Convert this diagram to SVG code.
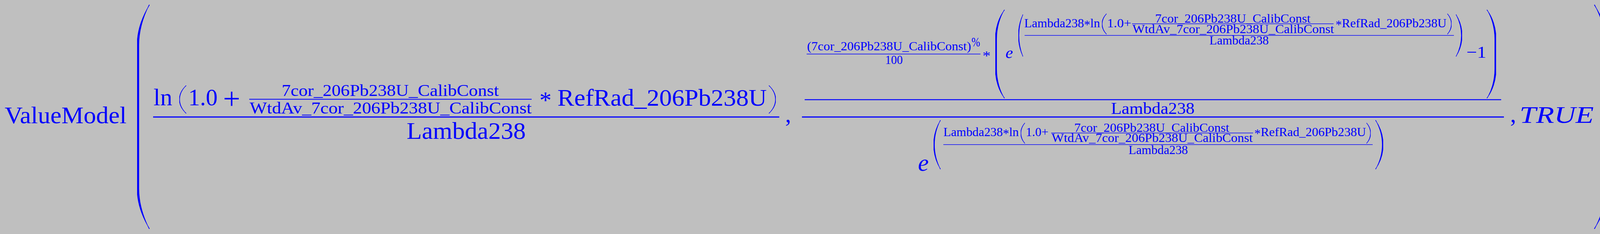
<svg xmlns="http://www.w3.org/2000/svg" width="4144" height="600" viewBox="0 0 4144 600">
<style>
.t{font-family:"Liberation Serif","Times New Roman",serif;fill:#0000FF}
.i{font-style:italic}
.bar{fill:#0000FF}
.d{fill:#0000FF}
.dp{fill:#0000FF;stroke:#0000FF;stroke-width:1.3;stroke-linejoin:round;vector-effect:non-scaling-stroke}
</style>
<defs>
<symbol id="lpb" viewBox="0 0 100 1000" preserveAspectRatio="none"><path class="dp" d="M100,0 C45,50 0,110 0,180 L0,820 C0,890 45,950 100,1000 L97,1000 C52,950 14,890 14,820 L14,180 C14,110 52,50 97,0 Z"/></symbol>
<symbol id="rpb" viewBox="0 0 100 1000" preserveAspectRatio="none"><path class="dp" d="M0,0 C55,50 100,110 100,180 L100,820 C100,890 55,950 0,1000 L3,1000 C48,950 86,890 86,820 L86,180 C86,110 48,50 3,0 Z"/></symbol>
<symbol id="lpm" viewBox="0 0 100 1000" preserveAspectRatio="none"><path class="dp" d="M100,0 C40,80 0,200 0,330 L0,670 C0,800 40,920 100,1000 L97,1000 C50,920 14,800 14,670 L14,330 C14,200 50,80 97,0 Z"/></symbol>
<symbol id="rpm" viewBox="0 0 100 1000" preserveAspectRatio="none"><path class="dp" d="M0,0 C60,80 100,200 100,330 L100,670 C100,800 60,920 0,1000 L3,1000 C50,920 86,800 86,670 L86,330 C86,200 50,80 3,0 Z"/></symbol>
<symbol id="lps" viewBox="0 0 100 1000" preserveAspectRatio="none"><path class="dp" d="M100,0 C30,160 0,330 0,500 C0,670 30,840 100,1000 L97,1000 C40,840 12,670 12,500 C12,330 40,160 97,0 Z"/></symbol>
<symbol id="rps" viewBox="0 0 100 1000" preserveAspectRatio="none"><path class="dp" d="M0,0 C70,160 100,330 100,500 C100,670 70,840 0,1000 L3,1000 C60,840 88,670 88,500 C88,330 60,160 3,0 Z"/></symbol>
<symbol id="lpt" viewBox="0 0 100 1000" preserveAspectRatio="none"><path class="dp" d="M100,0 C30,160 0,330 0,500 C0,670 30,840 100,1000 L98,1000 C34,840 5,670 5,500 C5,330 34,160 98,0 Z"/></symbol>
<symbol id="rpt" viewBox="0 0 100 1000" preserveAspectRatio="none"><path class="dp" d="M0,0 C70,160 100,330 100,500 C100,670 70,840 0,1000 L2,1000 C66,840 95,670 95,500 C95,330 66,160 2,0 Z"/></symbol>
</defs>
<rect x="0" y="0" width="4144" height="600" fill="#BFBFBF"/>

<g id="fn">
<text class="t" x="12" y="316" font-size="62" textLength="312" lengthAdjust="spacingAndGlyphs">ValueModel</text>
<use href="#lpb" x="351" y="12" width="32" height="575"/>
<use href="#rpb" x="4081" y="12" width="34" height="575"/>
</g>

<g id="arg1">
<text class="t" x="393" y="270" font-size="62" textLength="48" lengthAdjust="spacingAndGlyphs">ln</text>
<use href="#lpt" x="459" y="219" width="18" height="72"/>
<text class="t" x="482" y="270" font-size="62" textLength="75" lengthAdjust="spacingAndGlyphs">1.0</text>
<text class="t" x="571" y="279" font-size="78" textLength="44" lengthAdjust="spacingAndGlyphs">+</text>
<text class="t" x="721" y="246" font-size="43" textLength="556" lengthAdjust="spacingAndGlyphs">7cor_206Pb238U_CalibConst</text>
<rect class="bar" x="638" y="253.5" width="723" height="2"/>
<text class="t" x="639" y="291" font-size="43" textLength="722" lengthAdjust="spacingAndGlyphs">WtdAv_7cor_206Pb238U_CalibConst</text>
<text class="t" x="1381" y="277" font-size="62">*</text>
<text class="t" x="1427" y="271" font-size="62" textLength="536" lengthAdjust="spacingAndGlyphs">RefRad_206Pb238U</text>
<use href="#rpt" x="1968" y="219" width="18" height="72"/>
<rect class="bar" x="392" y="298.5" width="1603" height="3"/>
<text class="t" x="1041" y="356" font-size="62" textLength="305" lengthAdjust="spacingAndGlyphs">Lambda238</text>
<text class="t" x="2010" y="313" font-size="62">,</text>
</g>

<g id="arg2">
<text class="t" x="2066" y="129" font-size="31" textLength="420" lengthAdjust="spacingAndGlyphs">(7cor_206Pb238U_CalibConst)</text>
<text class="t" x="2487" y="119" font-size="33" textLength="22" lengthAdjust="spacingAndGlyphs">%</text>
<rect class="bar" x="2065" y="137.8" width="445" height="1.5"/>
<text class="t" x="2266" y="164" font-size="31" textLength="45" lengthAdjust="spacingAndGlyphs">100</text>
<text class="t" x="2515" y="154" font-size="34" textLength="21" lengthAdjust="spacingAndGlyphs">*</text>
<use href="#lpm" x="2548" y="25" width="24" height="227"/>
<text class="t i" x="2574" y="149" font-size="43">e</text>
<use href="#lps" x="2607" y="37" width="12" height="108"/>
<text class="t" x="2622" y="70" font-size="31" textLength="194" lengthAdjust="spacingAndGlyphs">Lambda238<tspan dy="4">*</tspan><tspan dy="-4">ln</tspan></text>
<use href="#lpt" x="2821" y="35" width="12" height="53"/>
<text class="t" x="2834" y="70" font-size="31" textLength="62" lengthAdjust="spacingAndGlyphs">1.0+</text>
<text class="t" x="2957" y="58" font-size="31" textLength="398" lengthAdjust="spacingAndGlyphs">7cor_206Pb238U_CalibConst</text>
<rect class="bar" x="2898" y="60.3" width="516" height="1.4"/>
<text class="t" x="2899" y="85" font-size="31" textLength="516" lengthAdjust="spacingAndGlyphs">WtdAv_7cor_206Pb238U_CalibConst</text>
<text class="t" x="3419" y="70" font-size="31" textLength="284" lengthAdjust="spacingAndGlyphs"><tspan dy="4">*</tspan><tspan dy="-4">RefRad_206Pb238U</tspan></text>
<use href="#rpt" x="3705" y="35" width="11" height="53"/>
<rect class="bar" x="2623" y="90" width="1099" height="1.4"/>
<text class="t" x="3096" y="113.7" font-size="31" textLength="152" lengthAdjust="spacingAndGlyphs">Lambda238</text>
<use href="#rps" x="3727" y="37" width="16" height="108"/>
<text class="t" x="3754" y="148" font-size="43" textLength="51" lengthAdjust="spacingAndGlyphs">−1</text>
<use href="#rpm" x="3806" y="25" width="24" height="227"/>
<rect class="bar" x="2060" y="254.4" width="1783" height="2.4"/>
<text class="t" x="2844" y="291.6" font-size="43" textLength="214" lengthAdjust="spacingAndGlyphs">Lambda238</text>
<rect class="bar" x="2053" y="298.5" width="1797" height="3"/>
<text class="t i" x="2350" y="438" font-size="62">e</text>
<use href="#lps" x="2390" y="308" width="18" height="126"/>
<text class="t" x="2415" y="349" font-size="31" textLength="193" lengthAdjust="spacingAndGlyphs">Lambda238<tspan dy="4">*</tspan><tspan dy="-4">ln</tspan></text>
<use href="#lpt" x="2613" y="315" width="11" height="53"/>
<text class="t" x="2626" y="349" font-size="31" textLength="58" lengthAdjust="spacingAndGlyphs">1.0+</text>
<text class="t" x="2750" y="338" font-size="31" textLength="397" lengthAdjust="spacingAndGlyphs">7cor_206Pb238U_CalibConst</text>
<rect class="bar" x="2691" y="340.3" width="517" height="1.4"/>
<text class="t" x="2692" y="364" font-size="31" textLength="515" lengthAdjust="spacingAndGlyphs">WtdAv_7cor_206Pb238U_CalibConst</text>
<text class="t" x="3211" y="349" font-size="31" textLength="286" lengthAdjust="spacingAndGlyphs"><tspan dy="4">*</tspan><tspan dy="-4">RefRad_206Pb238U</tspan></text>
<use href="#rpt" x="3498" y="315" width="11" height="53"/>
<rect class="bar" x="2415" y="370" width="1099" height="1.4"/>
<text class="t" x="2889" y="395" font-size="31" textLength="152" lengthAdjust="spacingAndGlyphs">Lambda238</text>
<use href="#rps" x="3521" y="308" width="20" height="126"/>
<text class="t" x="3866" y="313" font-size="62">,</text>
</g>

<g id="arg3">
<text class="t i" x="3890" y="315" font-size="62" textLength="190" lengthAdjust="spacingAndGlyphs">TRUE</text>
</g>
</svg>
